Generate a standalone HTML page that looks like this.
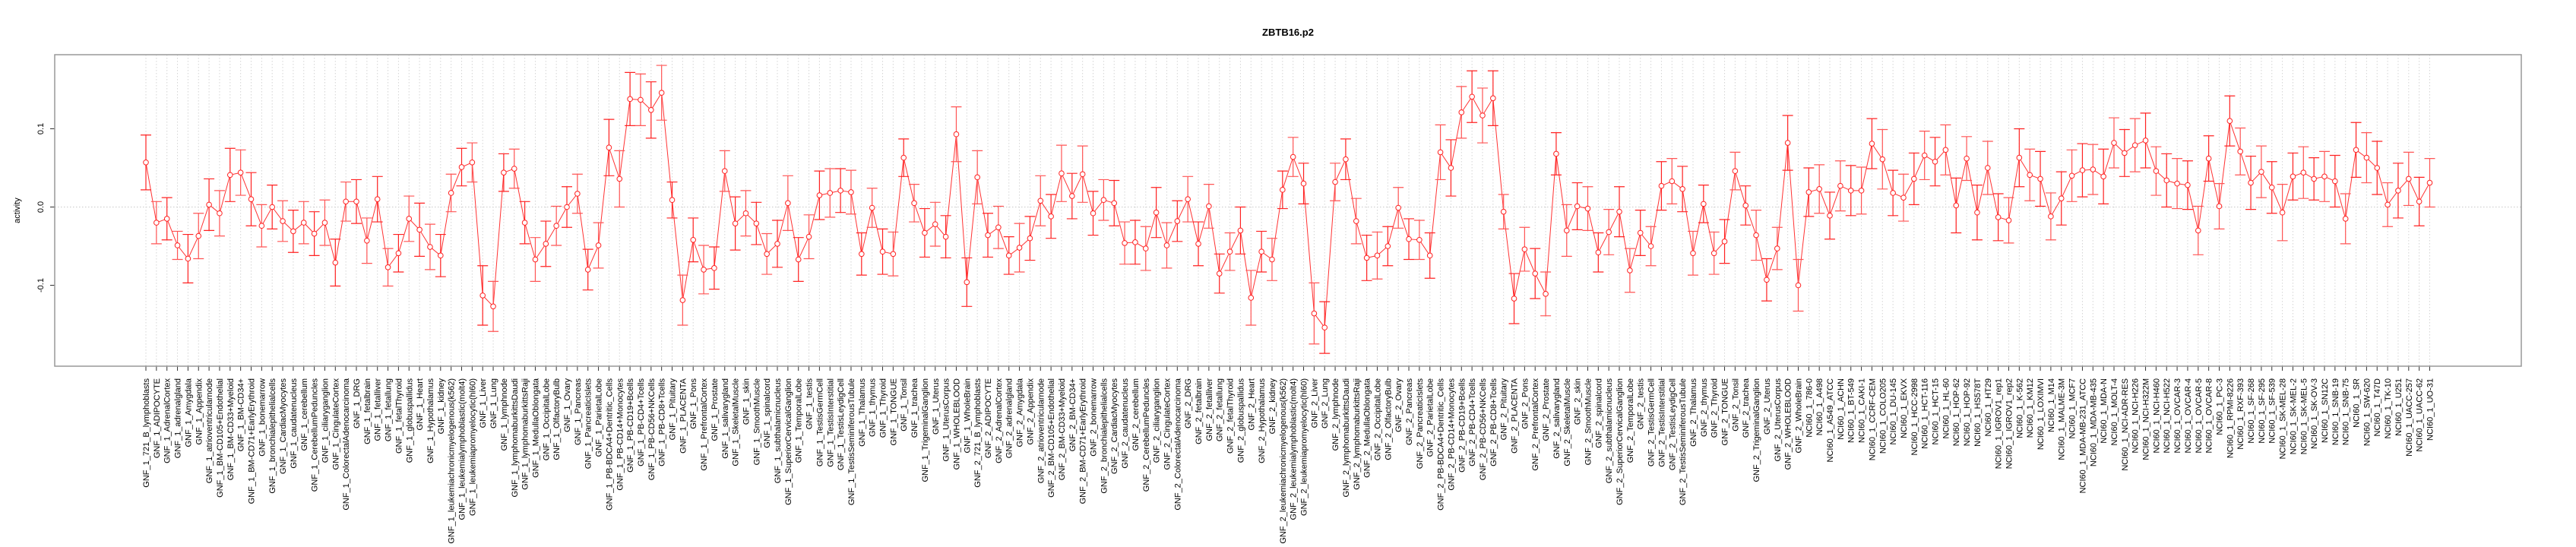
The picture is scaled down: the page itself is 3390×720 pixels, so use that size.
<!DOCTYPE html>
<html><head><meta charset="utf-8"><title>ZBTB16.p2</title>
<style>
html,body{margin:0;padding:0;background:#fff;}
svg{display:block;font-family:"Liberation Sans",sans-serif;}
</style></head>
<body>
<svg id="chart" width="3390" height="720" viewBox="0 0 3390 720" xmlns="http://www.w3.org/2000/svg">
  <rect x="0" y="0" width="3390" height="720" fill="#fff"/>
  <text x="1695" y="47" text-anchor="middle" font-size="13" font-weight="bold" fill="#000">ZBTB16.p2</text>
  <text transform="translate(26,277) rotate(-90)" text-anchor="middle" font-size="11" fill="#000">activity</text>
  <g id="grid"></g>
  <g id="yaxis"></g>
  <g id="xaxis"></g>
  <g id="series"></g>
  <rect x="72" y="72" width="3246" height="410" fill="none" stroke="#999" stroke-width="1.5"/>
</svg>
<script>
const tissues = ["721_B_lymphoblasts","ADIPOCYTE","AdrenalCortex","adrenalgland","Amygdala","Appendix","atrioventricularnode","BM-CD105+Endothelial","BM-CD33+Myeloid","BM-CD34+","BM-CD71+EarlyErythroid","bonemarrow","bronchialepithelialcells","CardiacMyocytes","caudatenucleus","cerebellum","CerebellumPeduncles","ciliaryganglion","CingulateCortex","ColorectalAdenocarcinoma","DRG","fetalbrain","fetalliver","fetallung","fetalThyroid","globuspallidus","Heart","Hypothalamus","kidney","leukemiachronicmyelogenous(k562)","leukemialymphoblastic(molt4)","leukemiapromyelocytic(hl60)","Liver","Lung","lymphnode","lymphomaburkittsDaudi","lymphomaburkittsRaji","MedullaOblongata","OccipitalLobe","OlfactoryBulb","Ovary","Pancreas","PancreaticIslets","ParietalLobe","PB-BDCA4+Dentritic_Cells","PB-CD14+Monocytes","PB-CD19+Bcells","PB-CD4+Tcells","PB-CD56+NKCells","PB-CD8+Tcells","Pituitary","PLACENTA","Pons","PrefrontalCortex","Prostate","salivarygland","SkeletalMuscle","skin","SmoothMuscle","spinalcord","subthalamicnucleus","SuperiorCervicalGanglion","TemporalLobe","testis","TestisGermCell","TestisInterstitial","TestisLeydigCell","TestisSeminiferousTubule","Thalamus","thymus","Thyroid","TONGUE","Tonsil","trachea","TrigeminalGanglion","Uterus","UterusCorpus","WHOLEBLOOD","WholeBrain"];
const cellLines = ["786-0","A498","A549_ATCC","ACHN","BT-549","CAKI-1","CCRF-CEM","COLO205","DU-145","EKVX","HCC-2998","HCT-116","HCT-15","HL-60","HOP-62","HOP-92","HS578T","HT29","IGROV1_rep1","IGROV1_rep2","K-562","KM12","LOXIMVI","M14","MALME-3M","MCF7","MDA-MB-231_ATCC","MDA-MB-435","MDA-N","MOLT-4","NCI-ADR-RES","NCI-H226","NCI-H322M","NCI-H460","NCI-H522","OVCAR-3","OVCAR-4","OVCAR-5","OVCAR-8","PC-3","RPMI-8226","RXF-393","SF-268","SF-295","SF-539","SK-MEL-28","SK-MEL-2","SK-MEL-5","SK-OV-3","SN12C","SNB-19","SNB-75","SR","SW-620","T47D","TK-10","U251","UACC-257","UACC-62","UO-31"];
const categories = tissues.map(t => "GNF_1_" + t).concat(tissues.map(t => "GNF_2_" + t), cellLines.map(c => "NCI60_1_" + c));

const valuesGNF1 = [.057,-.020,-.015,-.049,-.066,-.037,.003,-.008,.041,.044,.010,-.024,.000,-.018,-.031,-.020,-.034,-.020,-.071,.007,.007,-.043,
.010,-.077,-.059,-.015,-.029,-.051,-.062,.018,.051,.057,-.113,-.127,.044,.049,-.020,-.067,-.047,-.024,.000,.017,-.080,-.049,.076,.036,.138,.137,.124,.146,
.009,-.119,-.042,-.080,-.078,.046,-.021,-.008,-.021,-.060,-.047,.005,-.067,-.038,.015,.018,.021,.019,-.060,-.001,-.057,-.060,.063,.005,-.033,-.022,-.038,.093,-.096];
const errorsGNF1 = [.035,.027,.027,.018,.031,.029,.033,.029,.034,.029,.034,.027,.028,.026,.027,.027,.028,.029,.030,.025,.028,.029,
.029,.024,.024,.029,.034,.029,.027,.024,.024,.025,.038,.032,.024,.025,.027,.028,.029,.025,.026,.025,.026,.029,.036,.036,.034,.033,.036,.035,
.023,.032,.028,.031,.027,.026,.034,.029,.027,.026,.030,.035,.028,.028,.031,.031,.028,.028,.027,.025,.029,.028,.024,.024,.031,.028,.027,.035,.031];
const valuesGNF2 = [.038,-.036,-.026,-.062,-.052,-.040,.008,-.012,.043,.014,.042,-.008,.009,.005,-.046,-.045,-.053,-.007,-.049,-.018,.010,-.047,.001,-.085,-.057,-.030,-.116,-.057,-.067,
.022,.064,.030,-.136,-.154,.032,.061,-.018,-.065,-.062,-.050,-.001,-.041,-.042,-.062,.070,.050,.121,.141,.117,.139,-.006,-.117,-.054,-.085,-.111,.068,-.030,.001,
-.002,-.058,-.032,-.006,-.081,-.033,-.050,.027,.033,.023,-.059,.004,-.059,-.044,.046,.002,-.036,-.093,-.053,.082,-.100];
const errorsGNF2 = [.034,.028,.027,.024,.031,.028,.032,.028,.036,.029,.036,.028,.026,.029,.027,.028,.028,.032,.029,.026,.029,.028,.028,.025,.024,.030,.035,.026,.027,
.024,.025,.026,.039,.033,.024,.026,.029,.029,.030,.025,.026,.026,.025,.029,.035,.036,.033,.033,.035,.035,.022,.032,.028,.032,.028,.027,.033,.030,
.028,.025,.029,.032,.028,.029,.025,.031,.029,.029,.028,.024,.027,.028,.024,.025,.032,.027,.027,.035,.033];
const valuesNCI = [.019,.023,-.011,.027,.021,.021,.081,.061,
.018,.012,.036,.066,.058,.073,.002,.062,-.007,.050,-.013,-.017,.063,.041,.036,-.012,.011,.040,.047,.048,.039,.082,.069,.079,.085,.046,.034,.030,.028,
-.030,.062,.001,.110,.071,.031,.045,.025,-.007,.039,.044,.036,.039,.033,-.015,.073,.063,.050,.003,.021,.036,.007,.031];
const errorsNCI = [.031,.031,.030,.032,.032,.030,.032,.038,
.029,.030,.033,.031,.031,.032,.035,.028,.035,.034,.030,.029,.037,.033,.035,.030,.034,.033,.034,.032,.035,.032,.030,.034,.035,.031,.034,.032,.031,
.031,.029,.029,.032,.030,.034,.033,.033,.036,.030,.033,.027,.032,.033,.032,.035,.032,.034,.028,.035,.034,.031,.031];
const yTicks = [-0.1, 0.0, 0.1];
const yTickLabels = ["-0.1", "0.0", "0.1"];

const values = valuesGNF1.concat(valuesGNF2, valuesNCI);
const errors = errorsGNF1.concat(errorsGNF2, errorsNCI);

const NS = "http://www.w3.org/2000/svg";
const PLOT_L = 72, PLOT_R = 3318, PLOT_T = 72, PLOT_B = 482;
const X0 = 192, DX = (3197.5 - 192) / 217;
function xScale(i) { return X0 + i * DX; }
function yScale(v) { return 272.5 - v * 1030; }
function mk(tag, attrs, parent) {
  const el = document.createElementNS(NS, tag);
  for (const k in attrs) el.setAttribute(k, attrs[k]);
  parent.appendChild(el);
  return el;
}
const grid = document.getElementById("grid");
const yaxis = document.getElementById("yaxis");
const xaxis = document.getElementById("xaxis");
const series = document.getElementById("series");

// horizontal zero grid line
const hz = mk("line", {x1: PLOT_L, x2: PLOT_R, y1: yScale(0), y2: yScale(0), stroke: "#c8c8c8", "stroke-dasharray": "1.5,2.5"}, grid);



// y axis
yTicks.forEach((t, k) => {
  const y = yScale(t);
  const tk = mk("line", {x1: 66, x2: PLOT_L, y1: y, y2: y, stroke: "#333"}, yaxis);
  
  
  const lb = mk("text", {transform: "translate(57," + y + ") rotate(-90)", "text-anchor": "middle", "font-size": "11", fill: "#000"}, yaxis);
  lb.textContent = yTickLabels[k];
  
  
});

// x axis
categories.forEach((c, i) => {
  const x = xScale(i);
  const g = mk("line", {x1: x, x2: x, y1: PLOT_T, y2: PLOT_B, stroke: "#d4d4d4", "stroke-dasharray": "1.5,2.5"}, grid);
  
  
  const tk = mk("line", {x1: x, x2: x, y1: PLOT_B, y2: PLOT_B + 6, stroke: "#333"}, xaxis);
  
  
  const lb = mk("text", {transform: "translate(" + (x + 4) + ",498) rotate(-90)", "text-anchor": "end", "font-size": "11", fill: "#000"}, xaxis);
  lb.textContent = c;
  
  
});

// connecting line
const pts = values.map((v, i) => xScale(i).toFixed(1) + "," + yScale(v).toFixed(1)).join(" ");
const line = mk("polyline", {points: pts, fill: "none", stroke: "#ff3333", "stroke-width": "1"}, series);



// error bars and points
values.forEach((v, i) => {
  const x = xScale(i), yt = yScale(v + errors[i]), yb = yScale(v - errors[i]);
  const col = (i % 2) ? "#ff5555" : "#ff2222";
  const eb = mk("path", {d: "M" + (x - 7) + "," + yt + "H" + (x + 7) + "M" + x + "," + yt + "V" + yb + "M" + (x - 7) + "," + yb + "H" + (x + 7), stroke: col, "stroke-width": "1.2", fill: "none"}, series);
  
  
  const pt = mk("circle", {cx: x, cy: yScale(v), r: 3.3, fill: "#fff", stroke: "#ff2222", "stroke-width": "1"}, series);
  
  
});
</script>
</body></html>
